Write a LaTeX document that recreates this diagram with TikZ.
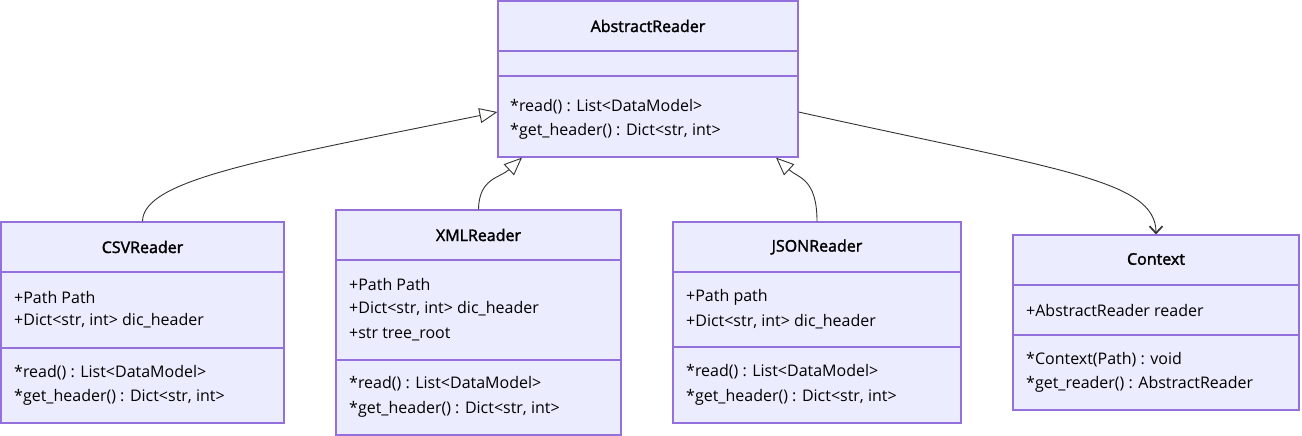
\documentclass[tikz,border=0pt]{standalone}
\usepackage{fontspec}
\setmainfont{Open Sans}
\newfontfamily\titlefont[FakeBold=2]{Open Sans}
\usetikzlibrary{arrows.meta,calc}
\definecolor{clsfill}{HTML}{ECECFF}
\definecolor{clsline}{HTML}{9370DB}
\definecolor{edge}{HTML}{333333}
\tikzset{
  cls/.style={draw=clsline, fill=clsfill, line width=1.2pt, inner sep=0pt},
  divline/.style={draw=clsline, line width=1.2pt},
  ctitle/.style={inner sep=0pt, font=\fontsize{16}{19}\titlefont},
  member/.style={inner sep=0pt, anchor=west, font=\fontsize{16}{19}\selectfont},
  inherit/.style={draw=edge, line width=0.9pt, -{Triangle[open, length=18pt, width=15pt, fill=white]}},
  assoc/.style={draw=edge, line width=0.9pt, -{Straight Barb[length=7pt, width=13pt, line width=1.7pt]}},
}
\begin{document}
\begin{tikzpicture}[x=1pt,y=-1pt]
\useasboundingbox (0,0) rectangle (1302,436);
% AbstractReader
\node[cls, minimum width=300pt, minimum height=156pt] (abs) at (648,79) {};
\draw[divline] (abs.west |- 0,51) -- (abs.east |- 0,51);
\draw[divline] (abs.west |- 0,76) -- (abs.east |- 0,76);
\node[ctitle] (absT) at (648,26) {AbstractReader};
\node[member] (absM1) at (510,107) {*read() : List<DataModel>};
\node[member] (absM2) at (510,131) {*get\_header() : Dict<str, int>};
% CSVReader
\node[cls, minimum width=283pt, minimum height=201pt] (csv) at (142.5,322.5) {};
\draw[divline] (csv.west |- 0,272) -- (csv.east |- 0,272);
\draw[divline] (csv.west |- 0,348) -- (csv.east |- 0,348);
\node[ctitle] (csvT) at (142.5,247) {CSVReader};
\node[member] (csvA1) at (14,297) {+Path Path};
\node[member] (csvA2) at (14,321) {+Dict<str, int> dic\_header};
\node[member] (csvM1) at (14,373) {*read() : List<DataModel>};
\node[member] (csvM2) at (14,397) {*get\_header() : Dict<str, int>};
% XMLReader
\node[cls, minimum width=285pt, minimum height=225pt] (xml) at (478.5,322.5) {};
\draw[divline] (xml.west |- 0,260) -- (xml.east |- 0,260);
\draw[divline] (xml.west |- 0,360) -- (xml.east |- 0,360);
\node[ctitle] (xmlT) at (478.5,235) {XMLReader};
\node[member] (xmlA1) at (349,284) {+Path Path};
\node[member] (xmlA2) at (349,309) {+Dict<str, int> dic\_header};
\node[member] (xmlA3) at (349,334) {+str tree\_root};
\node[member] (xmlM1) at (349,384) {*read() : List<DataModel>};
\node[member] (xmlM2) at (349,409) {*get\_header() : Dict<str, int>};
% JSONReader
\node[cls, minimum width=288pt, minimum height=201pt] (json) at (817,322.5) {};
\draw[divline] (json.west |- 0,272) -- (json.east |- 0,272);
\draw[divline] (json.west |- 0,347) -- (json.east |- 0,347);
\node[ctitle] (jsonT) at (817,247) {JSONReader};
\node[member] (jsonA1) at (686,297) {+Path path};
\node[member] (jsonA2) at (686,322) {+Dict<str, int> dic\_header};
\node[member] (jsonM1) at (686,372) {*read() : List<DataModel>};
\node[member] (jsonM2) at (686,397) {*get\_header() : Dict<str, int>};
% Context
\node[cls, minimum width=286pt, minimum height=175pt] (ctx) at (1156,322.5) {};
\draw[divline] (ctx.west |- 0,285) -- (ctx.east |- 0,285);
\draw[divline] (ctx.west |- 0,335) -- (ctx.east |- 0,335);
\node[ctitle] (ctxT) at (1156,259) {Context};
\node[member] (ctxA1) at (1026,310) {+AbstractReader reader};
\node[member] (ctxM1) at (1026,360) {*Context(Path) : void};
\node[member] (ctxM2) at (1026,384) {*get\_reader() : AbstractReader};
% edges
\draw[inherit] (csv.north) .. controls (143,180) and (260,160) .. ([yshift=-33pt]abs.west);
\draw[inherit] (xml.north) .. controls (479,178) and (500,178) .. ([xshift=-126pt]abs.south);
\draw[inherit] (json.north) .. controls (817,178) and (798,178) .. ([xshift=128pt]abs.south);
\draw[assoc] ([yshift=-33pt]abs.east) .. controls (1060,170) and (1156,180) .. (ctx.north);
\end{tikzpicture}
\end{document}
